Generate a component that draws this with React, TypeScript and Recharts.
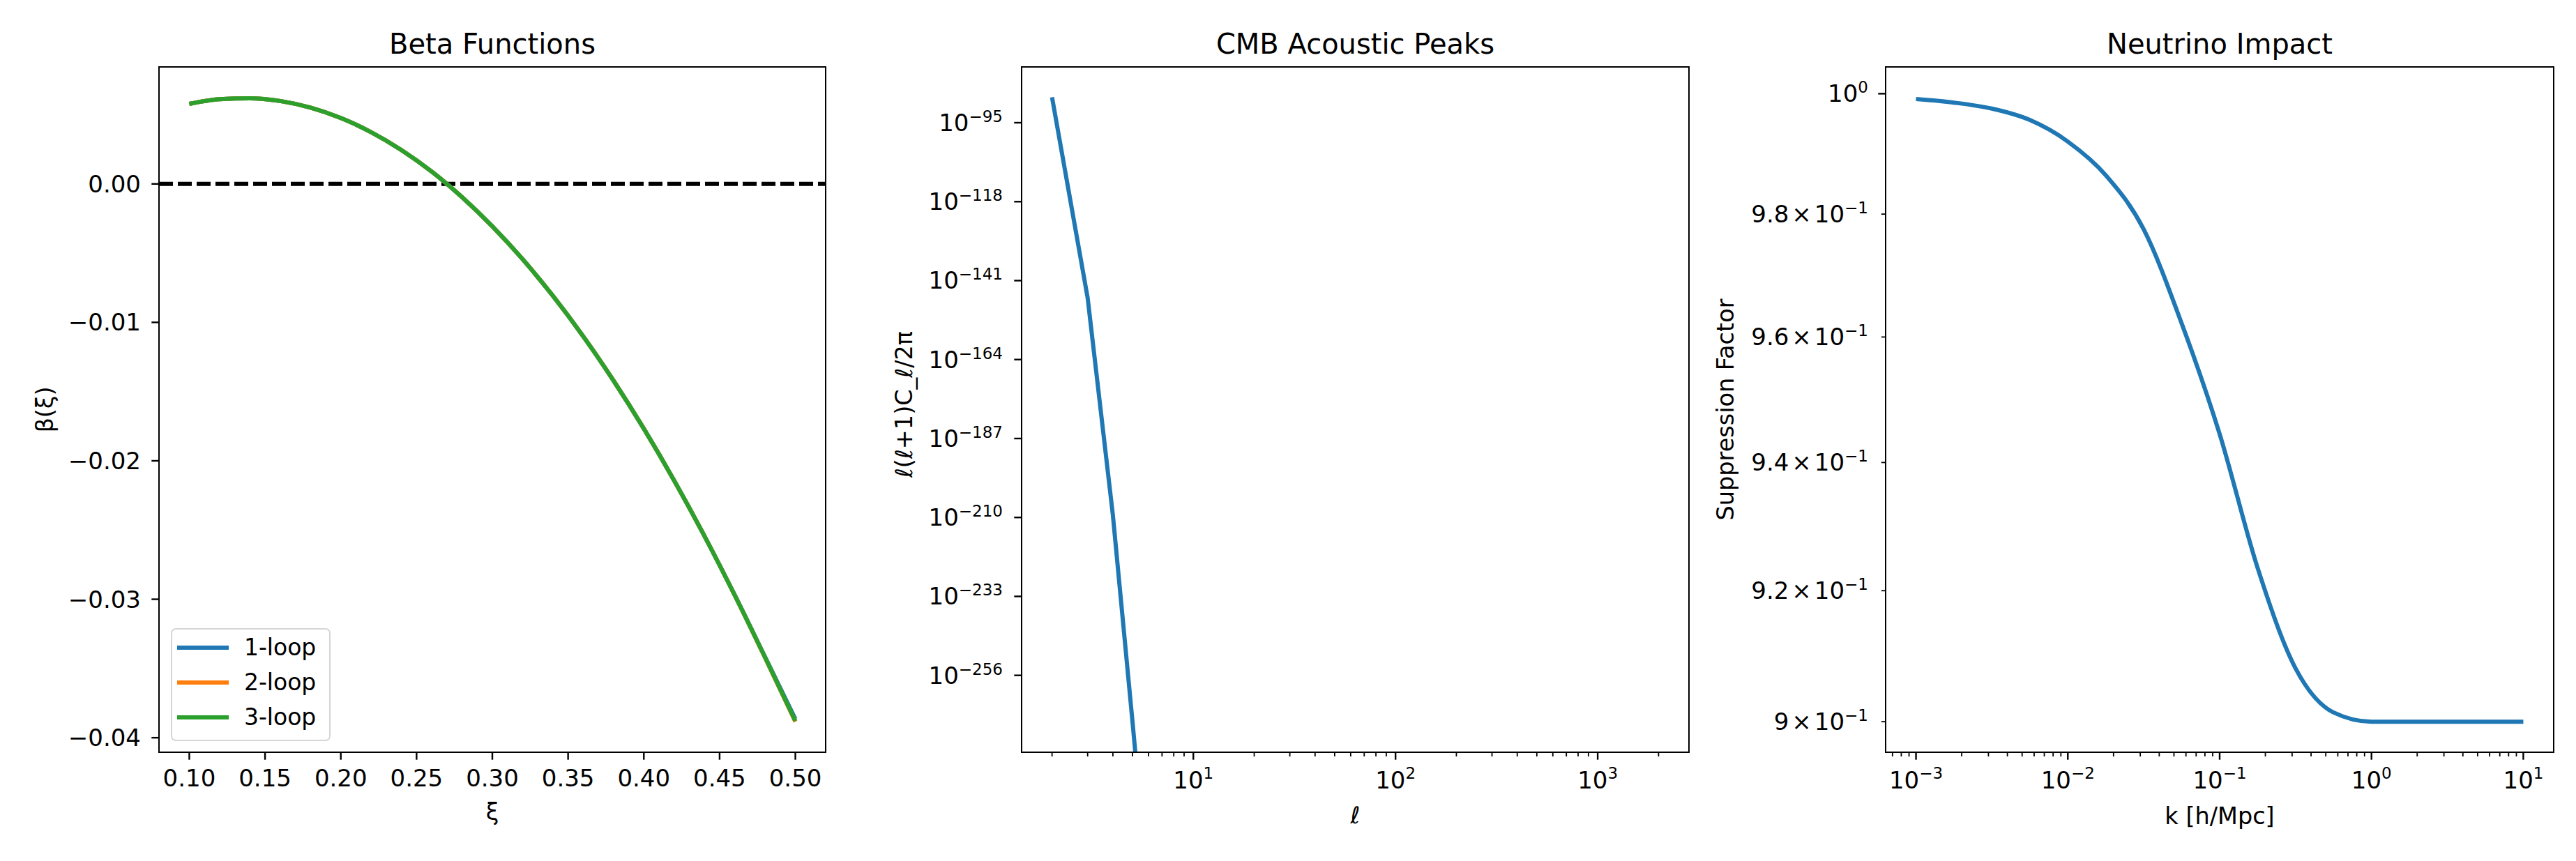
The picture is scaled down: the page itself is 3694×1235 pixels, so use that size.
import React from "react";
import { Legend, Line, LineChart, ReferenceLine, XAxis, YAxis } from "recharts";

const FONT = '"DejaVu Sans", sans-serif';
const BLUE = "#1f77b4";
const ORANGE = "#ff7f0e";
const GREEN = "#2ca02c";

// --- Beta functions ---
const xi = [0.1, 0.12, 0.14, 0.16, 0.18, 0.2, 0.22, 0.24, 0.26, 0.28, 0.3, 0.32, 0.34, 0.36, 0.38, 0.4, 0.42, 0.44, 0.46, 0.48, 0.5];
const beta1Loop = [0.00578, 0.00612, 0.00619, 0.00599, 0.00551, 0.00476, 0.00374, 0.00245, 0.00089, -0.00095, -0.00306, -0.00544, -0.00809, -0.01101, -0.01421, -0.01768, -0.02142, -0.02543, -0.02969, -0.03416, -0.03865];
const beta2Loop = [0.00578, 0.00612, 0.00619, 0.00599, 0.00551, 0.00476, 0.00374, 0.00245, 0.00089, -0.00095, -0.00306, -0.00544, -0.00809, -0.01101, -0.01421, -0.01768, -0.02142, -0.02543, -0.02971, -0.03422, -0.03885];
const beta3Loop = [0.00578, 0.00612, 0.00619, 0.00599, 0.00551, 0.00476, 0.00374, 0.00245, 0.00089, -0.00095, -0.00306, -0.00544, -0.00809, -0.01101, -0.01421, -0.01768, -0.02142, -0.02543, -0.02971, -0.0342, -0.0388];
const betaXTicks = [0.1, 0.15, 0.2, 0.25, 0.3, 0.35, 0.4, 0.45, 0.5];
const betaYTicks = [0, -0.01, -0.02, -0.03, -0.04];

// --- CMB acoustic peaks (l >= 6 underflows, drawn as a drop below the axis) ---
const ell = [2, 3, 4, 5, 6];
const clPower = [2.5e-88, 1.0e-146, 4.0e-210, 3.2e-270, 1e-320];
const cmbYTicks = [1e-95, 1e-118, 1e-141, 1e-164, 1e-187, 1e-210, 1e-233, 1e-256];

// --- Neutrino impact ---
const kGrid = [0.001, 0.00178, 0.00316, 0.00562, 0.01, 0.0178, 0.0316, 0.0562, 0.1, 0.178, 0.316, 0.562, 1, 1.78, 3.16, 5.62, 10];
const suppression = [0.9991, 0.9985, 0.9975, 0.9956, 0.992, 0.9864, 0.9775, 0.9622, 0.9445, 0.9235, 0.9081, 0.9014, 0.9, 0.9, 0.9, 0.9, 0.9];
const nuYTicks = [0.9, 0.92, 0.94, 0.96, 0.98, 1];

const W = 3694;
const H = 1235;
const TOP = 96;
const BOTTOM = 1079;
const X_AXIS_H = 100;
const MAJOR = 10.7;
const MINOR = 6.1;
const TICK_FS = 34;
const SUP_FS = 23;

const betaRows = xi.map((x, i) => ({ xi: x, b1: beta1Loop[i], b2: beta2Loop[i], b3: beta3Loop[i] }));
const cmbRows = ell.map((l, i) => ({ ell: l, p: clPower[i] }));
const nuRows = kGrid.map((k, i) => ({ k, s: suppression[i] }));

function logTicks(lo: number, hi: number) {
  const out: number[] = [];
  for (let e = Math.floor(Math.log10(lo)); e <= Math.ceil(Math.log10(hi)); e++) {
    for (let d = 1; d <= 9; d++) {
      const v = +(d * Math.pow(10, e)).toPrecision(6);
      if (v >= lo && v <= hi) out.push(v);
    }
  }
  return out;
}

const isDecade = (v: number) => {
  const l = Math.log10(v);
  return Math.abs(l - Math.round(l)) < 1e-6;
};
const expText = (v: number) => {
  const e = Math.round(Math.log10(v));
  return e < 0 ? `\u2212${-e}` : `${e}`;
};
const minus = (s: string) => s.replace("-", "\u2212");

const cmbXDomain = [1.4142, 2828.4];
const cmbYDomain = [Math.pow(10, -278.4), Math.pow(10, -78.75)];
const nuXDomain = [Math.pow(10, -3.2), Math.pow(10, 1.2)];
const nuYDomain = [0.8954, 1.0045];

const txt = { fontFamily: FONT, fill: "#000" };

const linearXTick = (p: any) => (
  <g>
    <line x1={p.x} x2={p.x} y1={p.y} y2={p.y + MAJOR} stroke="#000" strokeWidth={2.4} />
    <text {...txt} x={p.x} y={p.y + 49} textAnchor="middle" fontSize={TICK_FS}>
      {p.payload.value.toFixed(2)}
    </text>
  </g>
);

const logXTick = (p: any) => {
  const major = isDecade(p.payload.value);
  return (
    <g>
      <line x1={p.x} x2={p.x} y1={p.y} y2={p.y + (major ? MAJOR : MINOR)} stroke="#000" strokeWidth={major ? 2.4 : 1.8} />
      {major && (
        <text {...txt} x={p.x} y={p.y + 52} textAnchor="middle" fontSize={TICK_FS}>
          10
          <tspan dy={-14} fontSize={SUP_FS}>{expText(p.payload.value)}</tspan>
        </text>
      )}
    </g>
  );
};

const betaYTick = (p: any) => (
  <g>
    <line x1={p.x - MAJOR} x2={p.x} y1={p.y} y2={p.y} stroke="#000" strokeWidth={2.4} />
    <text {...txt} x={p.x - 26} y={p.y + 12} textAnchor="end" fontSize={TICK_FS}>
      {minus(p.payload.value.toFixed(2))}
    </text>
  </g>
);

const cmbYTick = (p: any) => (
  <g>
    <line x1={p.x - MAJOR} x2={p.x} y1={p.y} y2={p.y} stroke="#000" strokeWidth={2.4} />
    <text {...txt} x={p.x - 27} y={p.y + 12} textAnchor="end" fontSize={TICK_FS}>
      10
      <tspan dy={-13} fontSize={SUP_FS}>{expText(p.payload.value)}</tspan>
    </text>
  </g>
);

const nuYTick = (p: any) => {
  const v = p.payload.value;
  const major = isDecade(v);
  return (
    <g>
      <line x1={p.x - (major ? MAJOR : MINOR)} x2={p.x} y1={p.y} y2={p.y} stroke="#000" strokeWidth={major ? 2.4 : 1.8} />
      {major ? (
        <text {...txt} x={p.x - 25} y={p.y + 12} textAnchor="end" fontSize={TICK_FS}>
          10
          <tspan dy={-13} fontSize={SUP_FS}>{expText(v)}</tspan>
        </text>
      ) : (
        <text {...txt} x={p.x - 25} y={p.y + 12} textAnchor="end" fontSize={TICK_FS}>
          {`${+(v * 10).toFixed(1)}`}
          <tspan dx={4}>×</tspan>
          <tspan dx={4}>10</tspan>
          <tspan dy={-13} fontSize={SUP_FS}>{"\u22121"}</tspan>
        </text>
      )}
    </g>
  );
};

const renderLegend = (props: any) => (
  <div
    style={{
      width: 229,
      height: 162,
      boxSizing: "border-box",
      border: "2.7px solid #d6d6d6",
      borderRadius: 7,
      background: "rgba(255,255,255,0.8)",
      paddingTop: 1,
      fontFamily: FONT,
    }}
  >
    {(props.payload || []).map((e: any) => (
      <div key={e.value} style={{ display: "flex", alignItems: "center", height: 50 }}>
        <div style={{ width: 74, height: 6, background: e.color, marginLeft: 7.4 }} />
        <span style={{ marginLeft: 22, fontSize: 33, lineHeight: "50px", color: "#000" }}>{e.value}</span>
      </div>
    ))}
  </div>
);

const Frame = ({ left, right }: { left: number; right: number }) => (
  <div
    style={{
      position: "absolute",
      left: left - 1.3,
      top: TOP - 1.3,
      width: right - left + 2.6,
      height: BOTTOM - TOP + 2.6,
      border: "2.6px solid #000",
      boxSizing: "border-box",
      pointerEvents: "none",
    }}
  />
);

const axisCommon = { axisLine: false, tickLine: false, tickSize: 0, tickMargin: 0, interval: 0 as const };

export default function App() {
  return (
    <div style={{ position: "absolute", left: 0, top: 0, width: W, height: H, background: "#fff", overflow: "hidden" }}>
      {/* Beta functions */}
      <div style={{ position: "absolute", left: 0, top: 0, width: 1240, height: H }}>
        <LineChart width={1240} height={H} data={betaRows} margin={{ top: TOP, right: 56, bottom: H - BOTTOM - X_AXIS_H, left: 48 }}>
          <XAxis dataKey="xi" type="number" domain={[0.08, 0.52]} allowDataOverflow ticks={betaXTicks} tick={linearXTick} height={X_AXIS_H} {...axisCommon} />
          <YAxis type="number" domain={[-0.04105, 0.00845]} allowDataOverflow ticks={betaYTicks} tick={betaYTick} width={180} {...axisCommon} />
          <ReferenceLine y={0} stroke="#000" strokeWidth={6} strokeDasharray="20 7" />
          <Line type="monotone" dataKey="b1" name="1-loop" stroke={BLUE} strokeWidth={6} dot={false} isAnimationActive={false} />
          <Line type="monotone" dataKey="b2" name="2-loop" stroke={ORANGE} strokeWidth={6} dot={false} isAnimationActive={false} />
          <Line type="monotone" dataKey="b3" name="3-loop" stroke={GREEN} strokeWidth={6} dot={false} isAnimationActive={false} />
          <Legend layout="horizontal" verticalAlign="middle" align="center" wrapperStyle={{ left: 244.5, top: 901, width: 229, height: 162 }} content={renderLegend} />
        </LineChart>
        <Frame left={228} right={1184} />
      </div>

      {/* CMB acoustic peaks */}
      <div style={{ position: "absolute", left: 1240, top: 0, width: 1220, height: H }}>
        <LineChart width={1220} height={H} data={cmbRows} margin={{ top: TOP, right: 38, bottom: H - BOTTOM - X_AXIS_H, left: 45 }}>
          <XAxis dataKey="ell" type="number" scale="log" domain={cmbXDomain} allowDataOverflow ticks={logTicks(cmbXDomain[0], cmbXDomain[1])} tick={logXTick} height={X_AXIS_H} {...axisCommon} />
          <YAxis type="number" scale="log" domain={cmbYDomain} allowDataOverflow ticks={cmbYTicks} tick={cmbYTick} width={180} {...axisCommon} />
          <Line type="linear" dataKey="p" stroke={BLUE} strokeWidth={6} dot={false} isAnimationActive={false} />
        </LineChart>
        <Frame left={225} right={1182} />
      </div>

      {/* Neutrino impact */}
      <div style={{ position: "absolute", left: 2440, top: 0, width: 1254, height: H }}>
        <LineChart width={1254} height={H} data={nuRows} margin={{ top: TOP, right: 32, bottom: H - BOTTOM - X_AXIS_H, left: 64 }}>
          <XAxis dataKey="k" type="number" scale="log" domain={nuXDomain} allowDataOverflow ticks={logTicks(nuXDomain[0], nuXDomain[1])} tick={logXTick} height={X_AXIS_H} {...axisCommon} />
          <YAxis type="number" scale="log" domain={nuYDomain} allowDataOverflow ticks={nuYTicks} tick={nuYTick} width={200} {...axisCommon} />
          <Line type="monotone" dataKey="s" stroke={BLUE} strokeWidth={6} dot={false} isAnimationActive={false} />
        </LineChart>
        <Frame left={264} right={1222} />
      </div>

      {/* titles and axis labels */}
      <svg width={W} height={H} style={{ position: "absolute", left: 0, top: 0, pointerEvents: "none" }}>
        <g fontFamily={FONT} fill="#000">
          <text x={706} y={77} fontSize={40} textAnchor="middle">Beta Functions</text>
          <text x={1943.5} y={77} fontSize={40} textAnchor="middle">CMB Acoustic Peaks</text>
          <text x={3183} y={77} fontSize={40} textAnchor="middle">Neutrino Impact</text>

          <text x={706} y={1176} fontSize={33.5} textAnchor="middle">ξ</text>
          <text x={1943.5} y={1181} fontSize={33.5} textAnchor="middle">ℓ</text>
          <text x={3183} y={1182} fontSize={33.5} textAnchor="middle">k [h/Mpc]</text>

          <text transform="translate(76,587.5) rotate(-90)" fontSize={33.5} textAnchor="middle">β(ξ)</text>
          <text transform="translate(1308,580) rotate(-90)" fontSize={33.5} textAnchor="middle">ℓ(ℓ+1)C_ℓ/2π</text>
          <text transform="translate(2486,587.5) rotate(-90)" fontSize={33.5} textAnchor="middle">Suppression Factor</text>
        </g>
      </svg>
    </div>
  );
}
